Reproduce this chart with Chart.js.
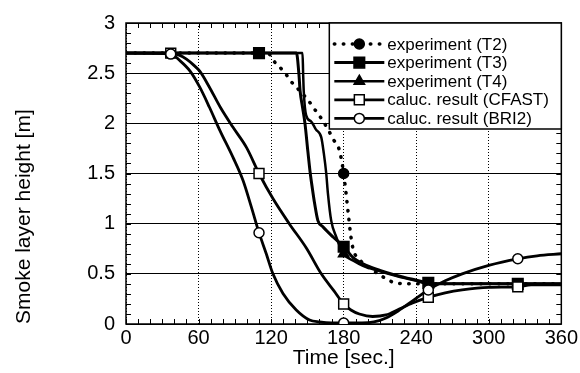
<!DOCTYPE html>
<html>
<head>
<meta charset="utf-8">
<script src="https://cdn.jsdelivr.net/npm/chart.js@4.4.0/dist/chart.umd.min.js"></script>
<style>
  html, body { margin: 0; padding: 0; background: #fff; }
  #wrap { width: 580px; height: 373px; }
</style>
</head>
<body>
<div id="wrap"><canvas id="smoke" width="580" height="373"></canvas></div>
<script>
// time [sec.] / smoke layer height [m]
var timeT2 = [0, 110, 117, 123, 131, 137, 144, 150, 156, 162, 167, 172, 176, 178, 180, 182, 184, 186, 188, 194, 202, 210, 218, 226, 250, 324, 360];
var heightT2 = [2.7, 2.7, 2.7, 2.61, 2.51, 2.41, 2.32, 2.24, 2.14, 2.04, 1.94, 1.83, 1.75, 1.65, 1.5, 1.3, 1.08, 0.87, 0.74, 0.63, 0.55, 0.49, 0.43, 0.405, 0.4, 0.4, 0.4];

var timeT3 = [0, 110, 141, 143, 144, 146, 148, 150.4, 152.4, 154, 156, 158.7, 162.8, 171, 180, 188, 196, 210, 223, 240, 250, 260, 324, 360];
var heightT3 = [2.7, 2.7, 2.7, 2.49, 2.32, 2.16, 2.0, 1.72, 1.5, 1.36, 1.2, 1.03, 0.97, 0.87, 0.77, 0.66, 0.6, 0.535, 0.487, 0.437, 0.41, 0.4, 0.4, 0.4];

var timeT4 = [0, 146, 146.5, 147, 149, 153, 157, 161.5, 163.6, 165.6, 167, 169.7, 173.8, 180, 188, 196, 210, 223, 240, 250, 360];
var heightT4 = [2.7, 2.7, 2.49, 2.32, 2.08, 2.02, 1.94, 1.86, 1.7, 1.5, 1.3, 1.03, 0.87, 0.7, 0.63, 0.58, 0.525, 0.48, 0.43, 0.4, 0.4];

var timeCFAST = [0, 37, 44, 50, 56, 61, 69, 78, 88.5, 99.6, 110, 121.5, 135, 149, 161.5, 172, 180, 186, 193, 204, 215, 226, 237, 250, 264, 278, 300, 324, 335, 360];
var heightCFAST = [2.7, 2.7, 2.68, 2.64, 2.58, 2.52, 2.36, 2.16, 1.96, 1.76, 1.5, 1.25, 1.0, 0.76, 0.5, 0.33, 0.2, 0.14, 0.1, 0.075, 0.09, 0.15, 0.21, 0.265, 0.31, 0.34, 0.365, 0.37, 0.39, 0.39];

var timeBRI2 = [0, 37, 45, 53, 61, 69, 77.6, 88.5, 96.8, 103.7, 110, 116, 121.5, 129.8, 140.8, 151.8, 160, 170, 180, 195, 205, 215, 225, 237, 250, 264, 278, 300, 324, 340, 360];
var heightBRI2 = [2.7, 2.69, 2.62, 2.52, 2.36, 2.16, 1.93, 1.66, 1.43, 1.165, 0.91, 0.7, 0.5, 0.305, 0.14, 0.04, 0.02, 0.01, 0.01, 0.01, 0.02, 0.06, 0.13, 0.23, 0.34, 0.43, 0.5, 0.585, 0.65, 0.68, 0.7];

// times where a symbol is drawn on each curve
var markT2 = [180];
var markT3 = [110, 180, 250, 324];
var markT4 = [180];
var markCFAST = [37, 110, 180, 250, 324];
var markBRI2 = [37, 110, 180, 250, 324];

var labels = ['experiment (T2)', 'experiment (T3)', 'experiment (T4)', 'caluc. result (CFAST)', 'caluc. result (BRI2)'];

var xTicks = [0, 60, 120, 180, 240, 300, 360];
var yTicks = [0, 0.5, 1, 1.5, 2, 2.5, 3];

var FONT = '"Liberation Sans", Arial, Helvetica, sans-serif';

function toPoints(t, h) {
  return t.map(function (x, i) { return { x: x, y: h[i] }; });
}

function serie(label, t, h, marks, shape, fill, radius, width, dash, order) {
  return {
    label: label,
    data: toPoints(t, h),
    borderColor: '#000',
    borderWidth: width,
    borderDash: dash,
    borderCapStyle: dash.length ? 'round' : 'butt',
    cubicInterpolationMode: 'monotone',
    pointStyle: shape,
    pointBackgroundColor: fill,
    pointBorderColor: '#000',
    pointBorderWidth: 1.5,
    markRadius: radius,
    pointRadius: function (ctx) {
      return ctx.raw && marks.indexOf(ctx.raw.x) >= 0 ? radius : 0;
    },
    pointHoverRadius: 0,
    order: order
  };
}

function marker(c, shape, x, y, r, fill) {
  c.save();
  c.fillStyle = fill;
  c.strokeStyle = '#000';
  c.lineWidth = 1.5;
  c.setLineDash([]);
  c.beginPath();
  if (shape === 'circle') {
    c.arc(x, y, r, 0, Math.PI * 2);
  } else if (shape === 'rect') {
    var s = r * Math.SQRT1_2;
    c.rect(x - s, y - s, 2 * s, 2 * s);
  } else if (shape === 'triangle') {
    c.moveTo(x, y - r);
    c.lineTo(x + r * 0.87, y + r * 0.5);
    c.lineTo(x - r * 0.87, y + r * 0.5);
    c.closePath();
  }
  c.fill();
  c.stroke();
  c.restore();
}

// plot frame with small inward ticks on all four sides
var frame = {
  id: 'frame',
  beforeDatasetsDraw: function (chart) {
    var a = chart.chartArea, sx = chart.scales.x, sy = chart.scales.y, c = chart.ctx;
    c.save();
    c.strokeStyle = '#000';
    c.lineWidth = 1;
    c.beginPath();
    for (var t = sx.min; t <= sx.max; t += 10) {
      var px = Math.round(sx.getPixelForValue(t)) + 0.5;
      c.moveTo(px, a.bottom); c.lineTo(px, a.bottom - 5);
      c.moveTo(px, a.top); c.lineTo(px, a.top + 5);
    }
    for (var k = 0; k <= 30; k++) {
      var py = Math.round(sy.getPixelForValue(k / 10)) + 0.5;
      c.moveTo(a.left, py); c.lineTo(a.left + 5, py);
      c.moveTo(a.right, py); c.lineTo(a.right - 5, py);
    }
    c.stroke();
    c.lineWidth = 1.5;
    c.strokeRect(a.left, a.top, a.right - a.left, a.bottom - a.top);
    c.restore();
  }
};

// boxed legend in the upper right corner of the plot
var legendBox = {
  id: 'legendBox',
  afterDatasetsDraw: function (chart) {
    var a = chart.chartArea, c = chart.ctx;
    var w = 232, h = 106, left = a.right - w, top = a.top;
    c.save();
    c.fillStyle = '#fff';
    c.fillRect(left, top, w, h);
    c.lineWidth = 1.5;
    c.strokeStyle = '#000';
    c.strokeRect(left, top, w, h);
    c.font = '17px ' + FONT;
    c.textBaseline = 'middle';
    chart.data.datasets.forEach(function (ds, i) {
      var yy = top + 21 + i * 18.6;
      c.setLineDash(ds.borderDash);
      c.lineCap = ds.borderCapStyle;
      c.lineWidth = ds.borderWidth;
      c.beginPath();
      c.moveTo(left + 5, yy);
      c.lineTo(left + 55, yy);
      c.stroke();
      marker(c, ds.pointStyle, left + 30, yy, ds.markRadius, ds.pointBackgroundColor);
      c.fillStyle = '#000';
      c.fillText(ds.label, left + 58, yy + 1);
    });
    c.restore();
  }
};

var ctx = document.getElementById('smoke').getContext('2d');
var chart = new Chart(ctx, {
  type: 'line',
  data: {
    datasets: [
      serie(labels[0], timeT2, heightT2, markT2, 'circle', '#000', 5, 3.5, [0.5, 8.5], 5),
      serie(labels[1], timeT3, heightT3, markT3, 'rect', '#000', 7.5, 3, [], 3),
      serie(labels[2], timeT4, heightT4, markT4, 'triangle', '#000', 6, 2.5, [], 4),
      serie(labels[3], timeCFAST, heightCFAST, markCFAST, 'rect', '#fff', 7, 2.8, [], 2),
      serie(labels[4], timeBRI2, heightBRI2, markBRI2, 'circle', '#fff', 5, 2.8, [], 1)
    ]
  },
  options: {
    responsive: false,
    animation: false,
    events: [],
    layout: { padding: { top: 22, right: 18, bottom: 0, left: 0 } },
    plugins: { legend: { display: false }, tooltip: { enabled: false } },
    scales: {
      x: {
        type: 'linear',
        min: 0,
        max: 360,
        afterBuildTicks: function (s) { s.ticks = xTicks.map(function (v) { return { value: v }; }); },
        afterFit: function (s) { s.height = 49; },
        grid: { color: '#000', lineWidth: 1, drawTicks: false },
        border: { display: false, dash: [1, 2] },
        ticks: {
          color: '#000',
          padding: 2,
          maxRotation: 0,
          font: { family: FONT, size: 20 },
          callback: function (v) { return String(v); }
        },
        title: {
          display: true,
          text: 'Time [sec.]',
          color: '#000',
          padding: { top: 0, bottom: 2 },
          font: { family: FONT, size: 21 }
        }
      },
      y: {
        min: 0,
        max: 3,
        afterBuildTicks: function (s) { s.ticks = yTicks.map(function (v) { return { value: v }; }); },
        afterFit: function (s) { s.width = 126; },
        grid: { color: '#000', lineWidth: 1, drawTicks: false },
        border: { display: false },
        ticks: {
          color: '#000',
          padding: 11,
          font: { family: FONT, size: 20 },
          callback: function (v) { return String(v); }
        },
        title: {
          display: true,
          text: 'Smoke layer height [m]',
          align: 'start',
          color: '#000',
          padding: { top: 12, bottom: 0 },
          font: { family: FONT, size: 21 }
        }
      }
    }
  },
  plugins: [frame, legendBox]
});
</script>
</body>
</html>
